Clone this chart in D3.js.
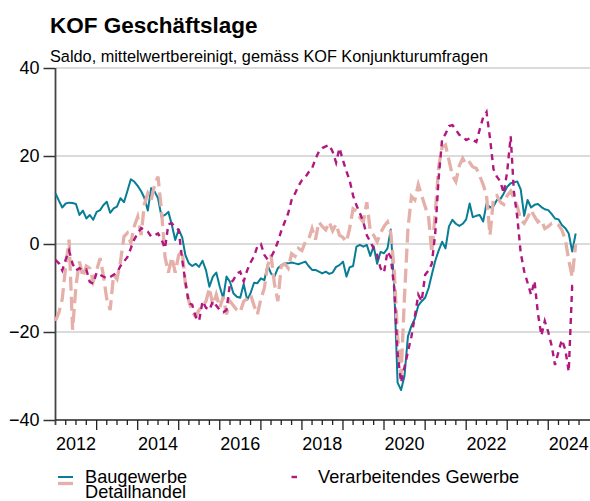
<!DOCTYPE html>
<html><head><meta charset="utf-8">
<script src="https://cdn.jsdelivr.net/npm/d3@7"></script>
<style>
body{margin:0;background:#fff}
svg{display:block}
text{font-family:"Liberation Sans",Arial,Helvetica,sans-serif;fill:#000}
</style>
</head><body>
<svg id="chart" width="590" height="501"></svg>
<script>
const title = "KOF Geschäftslage";
const subtitle = "Saldo, mittelwertbereinigt, gemäss KOF Konjunkturumfragen";
const seriesNames = ["Baugewerbe", "Detailhandel", "Verarbeitendes Gewerbe"];
const firstMonth = [2012, 0]; // January 2012, monthly observations

const baugewerbe = [
 11.5, 9.8, 8.3, 9.2, 9.4, 9.3, 9.1, 6.6, 7.6, 5.8, 6.6, 5.5,
 7.3, 7.7, 8.8, 9.6, 7.1, 8.1, 8.5, 10.4, 9.5, 12.0, 14.7, 14.2,
 13.2, 12.0, 10.5, 7.6, 12.7, 11.9, 10.4, 6.2, 6.6, 7.3, 4.3, 0.9,
 3.3, 1.5, -2.5, -4.4, -5.0, -4.5, -5.2, -3.8, -6.0, -9.7, -7.4, -6.5,
 -9.7, -12.3, -7.4, -8.6, -11.2, -12.0, -12.2, -9.1, -12.7, -11.2, -8.8, -8.9,
 -7.8, -8.2, -4.8, -6.7, -7.4, -5.5, -4.8, -4.4, -4.4, -4.2, -4.4, -4.6,
 -4.3, -4.0, -5.0, -5.9, -5.9, -6.3, -6.7, -6.3, -6.8, -6.5, -5.2, -4.8,
 -4.0, -7.4, -5.3, -5.0, -0.6, -0.2, -0.6, -0.2, -2.7, -0.5, -4.5, -1.8,
 -2.1, -1.0, 3.3, -10.0, -31.5, -33.2, -30.0, -21.0, -18.6, -17.0, -14.0, -13.0,
 -12.2, -10.0, -7.0, -3.8, -1.5, 0.5, -1.0, 4.0, 5.5, 4.6, 4.1, 4.6,
 5.6, 9.2, 6.1, 6.4, 6.6, 5.1, 9.2, 8.3, 8.6, 10.0, 10.2, 11.5,
 13.0, 13.8, 14.0, 14.2, 12.4, 6.4, 10.0, 8.3, 8.9, 9.1, 8.4, 7.9,
 7.7, 6.8, 5.8, 5.6, 4.3, 3.6, 2.4, -1.7, 2.4
];

const detailhandel = [
 -17.5, -15.5, -12.5, -5.0, 1.0, -19.5, -9.5, -4.0, -7.5, -5.0, -5.5, -8.5,
 -6.0, -3.2, -7.0, -12.5, -15.0, -7.0, -8.0, -4.0, 1.7, 2.5, 0.2, 4.0,
 6.2, 2.0, 9.0, 11.5, 10.0, 13.5, 15.3, 7.5, -2.9, -6.5, -3.0, -6.5,
 -2.5, -1.5, -9.0, -13.0, -15.5, -16.5, -15.0, -14.0, -13.0, -10.0, -14.0, -11.5,
 -14.5, -12.0, -16.0, -13.0, -14.0, -15.0, -15.5, -13.0, -12.5, -11.5, -14.0, -16.0,
 -12.5, -10.0, -5.0, -2.5, -9.0, -13.0, -5.0, -4.5, -5.5, -2.2, -2.8, -1.0,
 -1.5, 0.5, 1.0, 3.5, 1.0, 5.0, 4.0, 3.2, 5.0, 3.0, 4.5, 2.0,
 1.5, 0.5, 3.5, 8.0, 7.5, 6.0, 5.0, 9.5, 3.0, 2.0, 0.5, 2.5,
 4.0, 5.0, 2.5, -6.0, -21.0, -30.0, -12.0, 3.5, 10.8, 10.0, 13.5, 11.0,
 8.5, 6.0, -2.0, 7.0, 17.5, 22.0, 22.5, 19.0, 15.5, 14.2, 17.8, 19.5,
 18.0, 18.5, 17.5, 17.2, 15.5, 13.5, 11.0, 2.0, 10.5, 11.0, 9.5, 9.0,
 11.0, 12.0, 10.5, 8.5, 5.5, 4.7, 6.0, 7.7, 6.2, 5.0, 5.5, 3.5,
 4.0, 4.7, 4.7, 4.3, 3.2, 1.0, -3.6, -7.5, 0.0
];

const verarbeitendes = [
 -3.6, -4.4, -6.0, -3.5, -1.5, -4.5, -6.0, -5.5, -6.0, -5.8, -8.6, -9.0,
 -6.5, -7.0, -7.4, -7.8, -7.5, -7.0, -6.5, -5.0, -4.0, -3.0, -1.0, 1.0,
 2.4, 3.6, 3.2, 2.8, 1.7, 2.0, 2.4, 1.0, -1.0, 4.5, 4.7, 3.8,
 3.2, -3.6, -8.5, -13.5, -13.8, -16.5, -17.5, -13.0, -14.5, -15.0, -13.0, -14.0,
 -15.0, -15.5, -15.0, -9.0, -8.2, -6.7, -6.3, -8.5, -6.0, -4.2, -2.8, -0.5,
 0.0, -2.5, -3.5, -3.0, -1.5, 0.5, 3.0, 5.0, 7.0, 10.0, 11.5, 13.2,
 14.5, 15.2, 16.3, 17.2, 19.3, 21.0, 21.8, 22.2, 22.5, 21.0, 18.5, 21.8,
 19.0, 16.5, 14.5, 11.0, 8.8, 7.0, 5.0, 2.0, 0.5, -1.0, -2.5, -5.5,
 -6.5, -1.7, -3.0, -10.0, -25.0, -31.5, -28.0, -24.5, -21.0, -16.5, -11.5, -13.0,
 -7.0, -6.0, -4.5, 2.5, 15.0, 23.8, 25.0, 26.8, 27.0, 26.0, 24.8, 24.4,
 23.6, 24.0, 23.6, 23.2, 26.0, 28.8, 30.0, 24.0, 17.0, 15.3, 14.2, 11.5,
 16.5, 24.5, 12.0, 6.0, -2.0, -6.2, -8.8, -11.5, -8.4, -15.8, -20.8, -17.5,
 -20.0, -23.2, -27.5, -24.5, -21.8, -24.0, -29.0, -9.5, -9.2
];

const yTicks = [-40, -20, 0, 20, 40];
const xLabelYears = [2012, 2014, 2016, 2018, 2020, 2022, 2024];
const colors = ["#077d96", "#e5b0a9", "#b0187f"];

const svg = d3.select("#chart");
const start = new Date(firstMonth[0], firstMonth[1], 1);
const x = d3.scaleTime().domain([start, new Date(2025, 0, 1)]).range([55.5, 589.4]);
const y = d3.scaleLinear().domain([-40, 40]).range([420, 68]);

// title
svg.append("text").attr("x", 50).attr("y", 32.5)
  .style("font-size", "22.5px").style("font-weight", "bold").text(title);
svg.append("text").attr("x", 50).attr("y", 61.8)
  .style("font-size", "16.3px").text(subtitle);

// gridlines
svg.append("g").selectAll("line").data(yTicks.filter(t => t > -40)).join("line")
  .attr("x1", 56).attr("x2", 590)
  .attr("y1", d => y(d)).attr("y2", d => y(d))
  .attr("stroke", "#cfcfcf").attr("stroke-width", 1.3);

// y axis
const yAxis = d3.axisLeft(y).tickValues(yTicks).tickSize(12).tickPadding(4);
const gy = svg.append("g").attr("transform", "translate(55.5,0)").call(yAxis);
gy.select(".domain").remove();
gy.selectAll(".tick line").attr("stroke", "#333").attr("stroke-width", 1.5);
gy.selectAll(".tick text").style("font-size", "18px")
  .style("font-family", "'Liberation Sans',Arial,sans-serif").attr("fill", "#000");
svg.append("line").attr("x1", 55.5).attr("x2", 55.5).attr("y1", 68).attr("y2", 425)
  .attr("stroke", "#444").attr("stroke-width", 1.8);

// x axis
const quarterTicks = d3.timeMonth.every(3).range(start, new Date(2025, 0, 1));
const gx = svg.append("g");
gx.append("line").attr("x1", 55.5).attr("x2", 590).attr("y1", 420).attr("y2", 420)
  .attr("stroke", "#222").attr("stroke-width", 1.6);
gx.selectAll("line.tk").data(quarterTicks.filter(d => +d !== +start)).join("line")
  .attr("class", "tk")
  .attr("x1", d => x(d)).attr("x2", d => x(d))
  .attr("y1", 420).attr("y2", d => d.getMonth() === 0 ? 430 : 425)
  .attr("stroke", "#222").attr("stroke-width", 1.3);
gx.selectAll("text").data(xLabelYears).join("text")
  .attr("x", d => x(new Date(d, 6, 1)))
  .attr("y", 450).attr("text-anchor", "middle")
  .style("font-size", "18px").text(d => d);

// lines
const months = baugewerbe.map((_, i) => d3.timeMonth.offset(start, i));
const line = d3.line().x((d, i) => x(months[i])).y(d => y(d));
const g = svg.append("g");
g.append("path").datum(baugewerbe).attr("d", line)
  .attr("fill", "none").attr("stroke", colors[0]).attr("stroke-width", 2)
  .attr("stroke-linejoin", "round");
g.append("path").datum(detailhandel).attr("d", line)
  .attr("fill", "none").attr("stroke", colors[1]).attr("stroke-width", 3.3)
  .attr("stroke-dasharray", "14,6");
g.append("path").datum(verarbeitendes).attr("d", line)
  .attr("fill", "none").attr("stroke", colors[2]).attr("stroke-width", 2.4)
  .attr("stroke-dasharray", "6,5");

// legend
const leg = svg.append("g");
leg.append("line").attr("x1", 58).attr("x2", 73).attr("y1", 477).attr("y2", 477)
  .attr("stroke", colors[0]).attr("stroke-width", 2);
leg.append("text").attr("x", 85).attr("y", 483).style("font-size", "18.2px").text(seriesNames[0]);
leg.append("line").attr("x1", 58).attr("x2", 73).attr("y1", 483.5).attr("y2", 483.5)
  .attr("stroke", colors[1]).attr("stroke-width", 3.3);
leg.append("text").attr("x", 85).attr("y", 498.3).style("font-size", "18.2px").text(seriesNames[1]);
leg.append("line").attr("x1", 291.5).attr("x2", 297).attr("y1", 477).attr("y2", 477)
  .attr("stroke", colors[2]).attr("stroke-width", 2.4);
leg.append("text").attr("x", 318).attr("y", 483).style("font-size", "18.2px").text(seriesNames[2]);
</script>
</body></html>
